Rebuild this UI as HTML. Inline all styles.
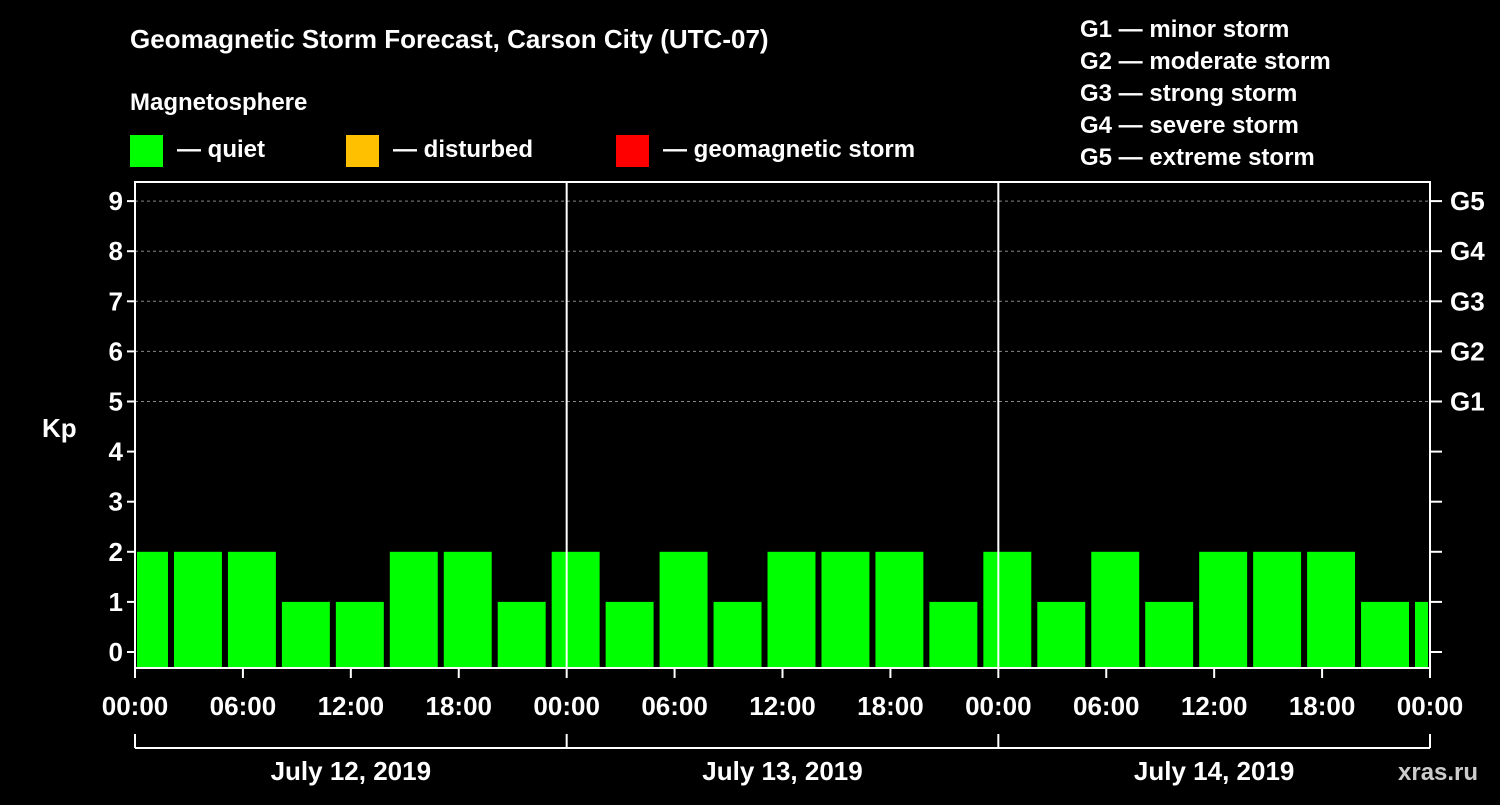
<!DOCTYPE html>
<html><head><meta charset="utf-8"><style>
body{margin:0;background:#000;width:1500px;height:800px;overflow:hidden}
svg text{font-family:"Liberation Sans",sans-serif;font-weight:bold;fill:#fff}
</style></head><body>
<svg id="c" width="1500" height="800">
<text x="130" y="48" font-size="26">Geomagnetic Storm Forecast, Carson City (UTC-07)</text>
<text x="130" y="110" font-size="24">Magnetosphere</text>
<rect x="130" y="135" width="33" height="32" fill="#00ff00"/>
<text x="177" y="157" font-size="24">— quiet</text>
<rect x="346" y="135" width="33" height="32" fill="#ffc000"/>
<text x="393" y="157" font-size="24">— disturbed</text>
<rect x="616" y="135" width="33" height="32" fill="#ff0000"/>
<text x="663" y="157" font-size="24">— geomagnetic storm</text>
<g font-size="24">
<text x="1080" y="37">G1 — minor storm</text>
<text x="1080" y="69">G2 — moderate storm</text>
<text x="1080" y="101">G3 — strong storm</text>
<text x="1080" y="133">G4 — severe storm</text>
<text x="1080" y="165">G5 — extreme storm</text>
</g>
<text x="42" y="437" font-size="26">Kp</text>
<text x="1398" y="780" font-size="24" fill="#fff" style="fill:#ccc">xras.ru</text>
<g id="plot"></g>
</svg>
<script>
const kpValues=[2,2,2,1,1,2,2,1,2,1,2,1,2,2,2,1,2,1,2,1,2,2,2,1,1];
const dayLabels=["July 12, 2019","July 13, 2019","July 14, 2019"];
const timeLabels=["00:00","06:00","12:00","18:00"];
const gLabels=["G1","G2","G3","G4","G5"];
const firstBarHour=-1;
const L=135,R=1430,T=182,B=668;
const hx=h=>L+h*(R-L)/72;
const ky=k=>652-k*50.1;
const NS="http://www.w3.org/2000/svg";
const g=document.getElementById('plot');
function mk(t,a){const e=document.createElementNS(NS,t);for(const k in a)e.setAttribute(k,a[k]);g.appendChild(e);return e;}
for(let k=5;k<=9;k++){
 const e=mk('line',{x1:L,x2:R,y1:ky(k),y2:ky(k),stroke:'#888','stroke-dasharray':'3,3'});
 
 
}
kpValues.forEach((v,i)=>{
 let x0=hx(firstBarHour+i*3)+3,x1=hx(firstBarHour+i*3+3)-3;
 x0=Math.max(x0,L+2);x1=Math.min(x1,R-2);
 const e=mk('rect',{x:x0,y:ky(v),width:x1-x0,height:B-ky(v),fill:v>=5?'#ff0000':(v>=4?'#ffc000':'#00ff00')});
 
 
});
const fr=mk('rect',{x:L,y:T,width:R-L,height:B-T,fill:'none',stroke:'#fff','stroke-width':2});


for(let d=1;d<3;d++){
 const e=mk('line',{x1:hx(d*24),x2:hx(d*24),y1:T,y2:B,stroke:'#fff','stroke-width':2});
 
 
}
for(let k=0;k<=9;k++){
 mk('line',{x1:L-8,x2:L,y1:ky(k),y2:ky(k),stroke:'#fff','stroke-width':2});
 mk('line',{x1:R,x2:R+12,y1:ky(k),y2:ky(k),stroke:'#fff','stroke-width':2});
 const t=mk('text',{x:L-12,y:ky(k)+9,'text-anchor':'end','font-size':26});
 t.textContent=k;
 
 
}
gLabels.forEach((s,i)=>{
 const t=mk('text',{x:R+20,y:ky(5+i)+9,'font-size':26});
 t.textContent=s;
 
 
});
for(let h=0;h<=72;h+=6){
 mk('line',{x1:hx(h),x2:hx(h),y1:B,y2:B+10,stroke:'#fff','stroke-width':2});
 const t=mk('text',{x:hx(h),y:715,'text-anchor':'middle','font-size':26});
 t.textContent=timeLabels[(h/6)%4];
 
 
}
mk('line',{x1:L,x2:R,y1:748,y2:748,stroke:'#fff','stroke-width':2});
for(let d=0;d<=3;d++)mk('line',{x1:hx(d*24),x2:hx(d*24),y1:734,y2:748,stroke:'#fff','stroke-width':2});
dayLabels.forEach((s,i)=>{
 const t=mk('text',{x:hx(i*24+12),y:780,'text-anchor':'middle','font-size':26});
 t.textContent=s;
 
 
});
</script>
</body></html>
